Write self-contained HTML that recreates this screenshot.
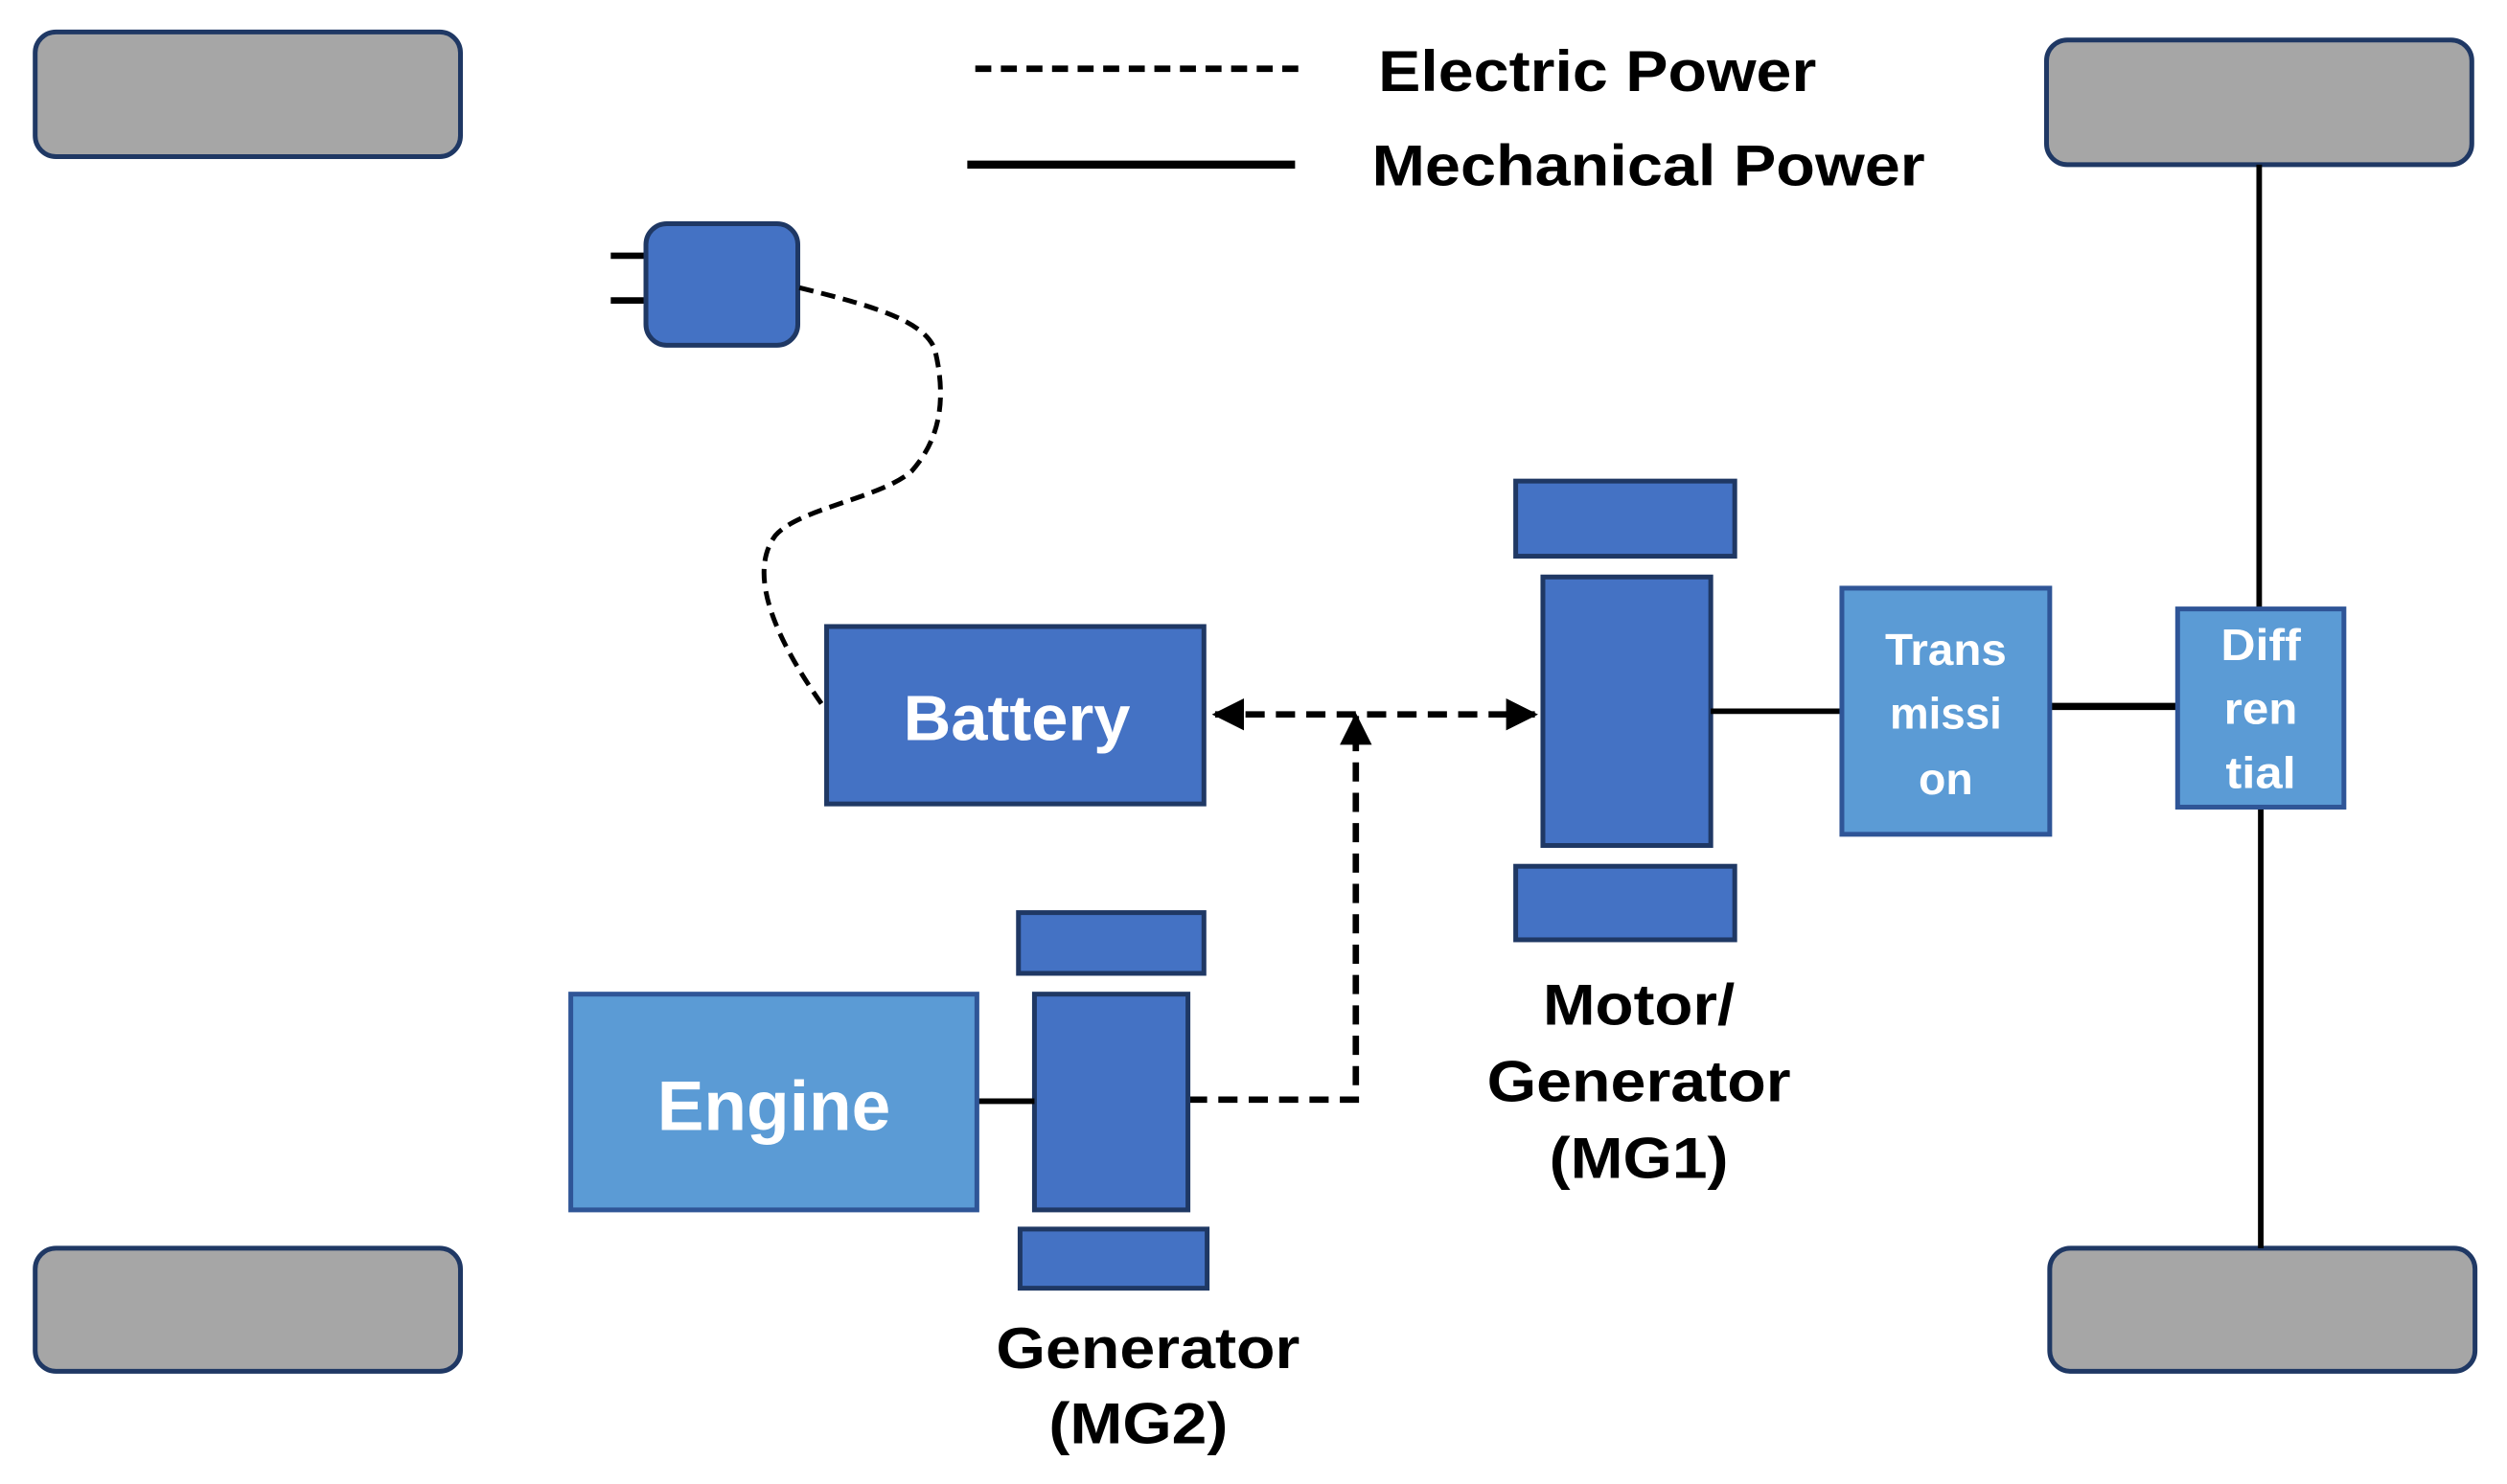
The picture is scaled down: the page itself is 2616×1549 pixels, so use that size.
<!DOCTYPE html>
<html><head><meta charset="utf-8"><style>
html,body{margin:0;padding:0;background:#fff;}
svg{display:block;}
text{font-family:"Liberation Sans",sans-serif;font-weight:bold;}
</style></head><body>
<svg width="2616" height="1549" viewBox="0 0 1568 928.5" preserveAspectRatio="none" xmlns="http://www.w3.org/2000/svg">
<defs>
<marker id="ah" viewBox="0 0 10 10" refX="9" refY="5" markerWidth="5" markerHeight="5" orient="auto-start-reverse" markerUnits="strokeWidth">
<path d="M0,0 L10,5 L0,10 z" fill="#000"/></marker>
</defs>
<g fill="#a6a6a6" stroke="#1f3864" stroke-width="3">
<rect x="22" y="20" width="266" height="78" rx="13"/>
<rect x="1280" y="25" width="266" height="78" rx="13"/>
<rect x="22" y="781" width="266" height="77" rx="13"/>
<rect x="1282" y="781" width="266" height="77" rx="13"/>
</g>
<line x1="610" y1="43" x2="815" y2="43" stroke="#000" stroke-width="4" stroke-dasharray="10,6"/>
<line x1="605" y1="103" x2="810" y2="103" stroke="#000" stroke-width="5"/>
<text x="862" y="57" font-size="36" textLength="274" lengthAdjust="spacingAndGlyphs">Electric Power</text>
<text x="858" y="116" font-size="36" textLength="346" lengthAdjust="spacingAndGlyphs">Mechanical Power</text>
<line x1="382" y1="160" x2="404" y2="160" stroke="#000" stroke-width="4"/>
<line x1="382" y1="188" x2="404" y2="188" stroke="#000" stroke-width="4"/>
<rect x="404" y="140" width="95" height="76" rx="13" fill="#4472c4" stroke="#1f3864" stroke-width="3"/>
<path d="M500,180 C540,190 580,200 585,220 C592,250 588,275 570,295 C550,312 500,318 485,335 C470,355 478,390 515,442" fill="none" stroke="#000" stroke-width="3" stroke-dasharray="9,5"/>
<rect x="517" y="392" width="236" height="111" fill="#4472c4" stroke="#1f3864" stroke-width="3"/>
<text x="636" y="463" font-size="40" fill="#fff" text-anchor="middle" textLength="142" lengthAdjust="spacingAndGlyphs">Battery</text>
<line x1="760" y1="447" x2="960" y2="447" stroke="#000" stroke-width="4" stroke-dasharray="12,7" marker-start="url(#ah)" marker-end="url(#ah)"/>
<polyline points="743,688 848,688 848,448" fill="none" stroke="#000" stroke-width="4" stroke-dasharray="12,7" marker-end="url(#ah)"/>
<g fill="#4472c4" stroke="#1f3864" stroke-width="3">
<rect x="948" y="301" width="137" height="47"/>
<rect x="965" y="361" width="105" height="168"/>
<rect x="948" y="542" width="137" height="46"/>
<rect x="637" y="571" width="116" height="38"/>
<rect x="647" y="622" width="96" height="135"/>
<rect x="638" y="769" width="117" height="37"/>
</g>
<line x1="1070" y1="445" x2="1152" y2="445" stroke="#000" stroke-width="3.5"/>
<line x1="1282" y1="442" x2="1362" y2="442" stroke="#000" stroke-width="4.5"/>
<line x1="1413" y1="103" x2="1413" y2="381" stroke="#000" stroke-width="3.5"/>
<line x1="1414" y1="505" x2="1414" y2="781" stroke="#000" stroke-width="3.5"/>
<line x1="611" y1="689" x2="647" y2="689" stroke="#000" stroke-width="3.5"/>
<g fill="#5b9bd5" stroke="#2f5597" stroke-width="3">
<rect x="1152" y="368" width="130" height="154"/>
<rect x="1362" y="381" width="104" height="124"/>
<rect x="357" y="622" width="254" height="135"/>
</g>
<g fill="#fff" font-size="28" text-anchor="middle">
<text x="1217" y="416" textLength="76" lengthAdjust="spacingAndGlyphs">Trans</text>
<text x="1217" y="456" textLength="70" lengthAdjust="spacingAndGlyphs">missi</text>
<text x="1217" y="497" textLength="34" lengthAdjust="spacingAndGlyphs">on</text>
<text x="1414" y="413" textLength="50" lengthAdjust="spacingAndGlyphs">Diff</text>
<text x="1414" y="453" textLength="46" lengthAdjust="spacingAndGlyphs">ren</text>
<text x="1414" y="493" textLength="44" lengthAdjust="spacingAndGlyphs">tial</text>
</g>
<text x="484" y="707" font-size="44" fill="#fff" text-anchor="middle" textLength="146" lengthAdjust="spacingAndGlyphs">Engine</text>
<g font-size="36" fill="#000" text-anchor="middle">
<text x="1025" y="641" textLength="120" lengthAdjust="spacingAndGlyphs">Motor/</text>
<text x="1025" y="689" textLength="190" lengthAdjust="spacingAndGlyphs">Generator</text>
<text x="1025" y="737" textLength="112" lengthAdjust="spacingAndGlyphs">(MG1)</text>
<text x="718" y="856" textLength="190" lengthAdjust="spacingAndGlyphs">Generator</text>
<text x="712" y="903" textLength="112" lengthAdjust="spacingAndGlyphs">(MG2)</text>
</g>
</svg>
</body></html>
